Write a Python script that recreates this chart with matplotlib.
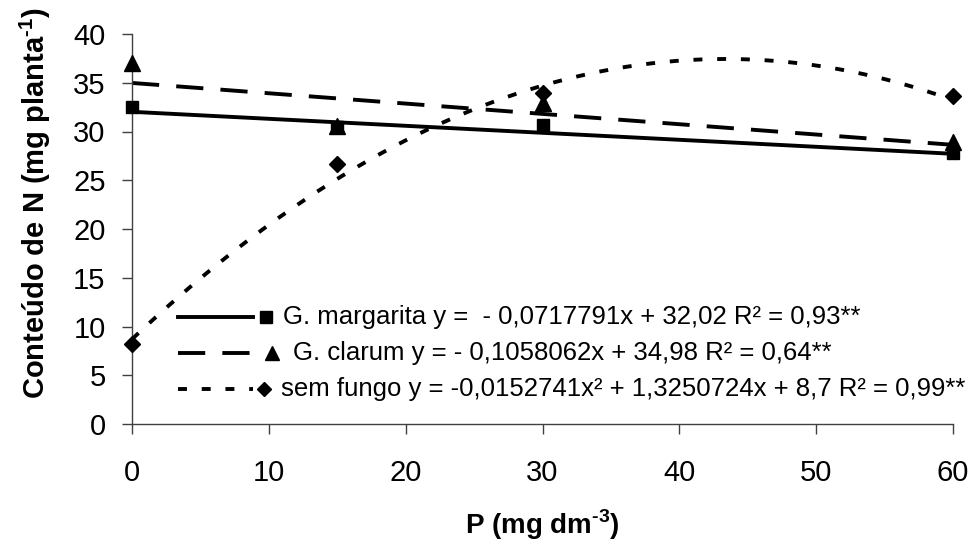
import matplotlib

matplotlib.use("Agg")
import matplotlib.pyplot as plt
import numpy as np

# P doses (mg dm-3) and N content (mg planta-1) per treatment
doses = [0, 15, 30, 60]
margarita = [32.5, 30.5, 30.7, 27.8]
clarum = [37.0, 30.6, 32.9, 28.9]
sem_fungo = [8.2, 26.7, 33.9, 33.6]

# fitted trendlines (coefficients as reported)
coef_margarita = [-0.0717791, 32.02]
coef_clarum = [-0.1058062, 34.98]
coef_sem_fungo = [-0.0152741, 1.3250724, 8.7]

labels = [
    "G. margarita y =  - 0,0717791x + 32,02 R\u00b2 = 0,93**",
    "G. clarum y = - 0,1058062x + 34,98 R\u00b2 = 0,64**",
    "sem fungo y = -0,0152741x\u00b2 + 1,3250724x + 8,7 R\u00b2 = 0,99**",
]

plt.rcParams.update({
    "font.family": ["Liberation Sans", "DejaVu Sans"],
    "mathtext.fontset": "custom",
    "mathtext.rm": "Liberation Sans",
    "mathtext.bf": "Liberation Sans:bold",
    "figure.dpi": 100,
    "savefig.dpi": 100,
})

W, H = 975, 544
fig = plt.figure(figsize=(W / 100, H / 100), facecolor="white")
# plot area in pixels: x 132..953, y 34..424
ax_l, ax_r, ax_t, ax_b = 132, 953, 34, 424
ax = fig.add_axes([ax_l / W, 1 - ax_b / H, (ax_r - ax_l) / W, (ax_b - ax_t) / H])


def px(x, y):
    """Pixel position -> axes fraction."""
    return (x - ax_l) / (ax_r - ax_l), (ax_b - y) / (ax_b - ax_t)


lw = 2.8
solid = dict(color="black", lw=lw, linestyle="-")
dashed = dict(color="black", lw=lw, linestyle=(0, (7, 4.4)))
dotted = dict(color="black", lw=lw, linestyle=(0, (2.3, 3.8)), dash_capstyle="butt")

xs = np.linspace(0, 60, 200)
ax.plot(xs, np.polyval(coef_margarita, xs), **solid)
ax.plot(xs, np.polyval(coef_clarum, xs), **dashed)
ax.plot(xs, np.polyval(coef_sem_fungo, xs), **dotted)

ax.plot(doses, sem_fungo, "D", color="black", ms=8, clip_on=False, zorder=5)
ax.plot(doses, clarum, "^", color="black", ms=11, clip_on=False, zorder=5)
ax.plot(doses, margarita, "s", color="black", ms=9, clip_on=False, zorder=5)

ax.set_xlim(0, 60)
ax.set_ylim(0, 40)
ax.set_xticks(range(0, 61, 10))
ax.set_yticks(range(0, 41, 5))

for side in ("top", "right"):
    ax.spines[side].set_visible(False)
for side in ("left", "bottom"):
    ax.spines[side].set_color("#404040")
    ax.spines[side].set_linewidth(1.0)
ax.tick_params(axis="x", length=7, width=1.0, color="#404040", labelsize=21, pad=18)
ax.tick_params(axis="y", length=7, width=1.0, color="#404040", labelsize=21, pad=12)

ax.set_xlabel("P (mg dm$^{\\mathbf{\u2010 3}}$)", fontsize=20, fontweight="bold", labelpad=15)
ax.set_ylabel("Conte\u00fado de N (mg planta$^{\\mathbf{\u2010 1}}$)", fontsize=21, fontweight="bold")
ax.yaxis.set_label_coords(*px(53, 203))

# legend drawn by hand: key line, then marker to its right, then text
rows = [
    (solid, "s", 8, 317, 266, 283),
    (dashed, "^", 10, 353, 272, 293),
    (dotted, "D", 7, 389, 264, 281),
]
for (style, marker, ms, y, mx, tx), text in zip(rows, labels):
    (x0, yy), (x1, _) = px(178, y), px(253, y)
    ax.plot([x0, x1], [yy, yy], transform=ax.transAxes, clip_on=False, **style)
    ax.plot([px(mx, y)[0]], [yy], marker, color="black", ms=ms,
            transform=ax.transAxes, clip_on=False)
    ax.text(px(tx, y)[0], yy, text, transform=ax.transAxes, fontsize=18.5,
            va="center", ha="left", clip_on=False)

fig.savefig("out.png", facecolor="white")
